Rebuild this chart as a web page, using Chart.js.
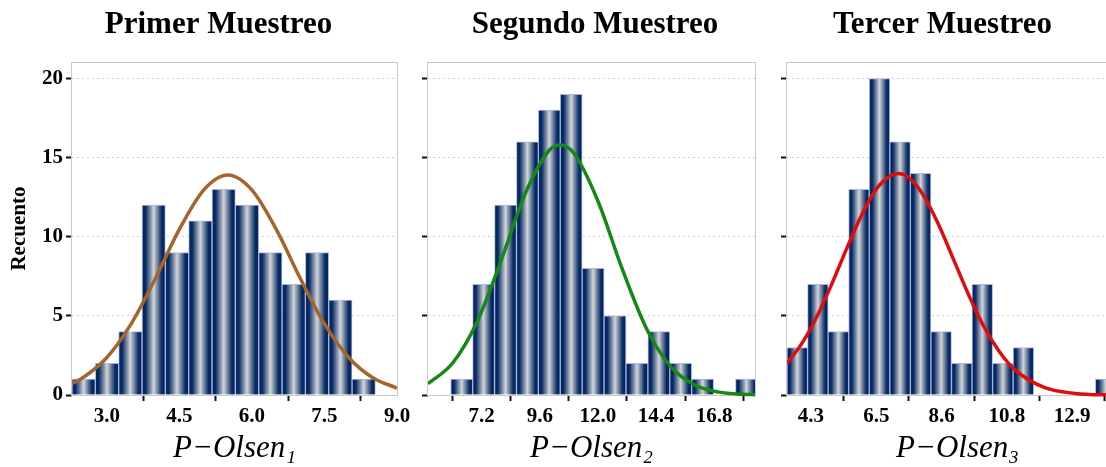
<!DOCTYPE html>
<html>
<head>
<meta charset="utf-8">
<script src="https://cdn.jsdelivr.net/npm/chart.js@4.4.1/dist/chart.umd.min.js"></script>
<style>
html, body { margin: 0; padding: 0; background: #ffffff; overflow: hidden; }
#wrap { position: relative; width: 1106px; height: 467px; overflow: hidden; background: #fff; }
canvas { position: absolute; top: 0; }
</style>
</head>
<body>
<div id="wrap">
  <canvas id="c1" width="437" height="467" style="left:0px"></canvas>
  <canvas id="c2" width="382" height="467" style="left:404px"></canvas>
  <canvas id="c3" width="371" height="467" style="left:757px"></canvas>
</div>
<script>
// ---------- text ----------
const panelTitles = ['Primer Muestreo', 'Segundo Muestreo', 'Tercer Muestreo'];
const xAxisTitles = ['P\u2212Olsen\u2081', 'P\u2212Olsen\u2082', 'P\u2212Olsen\u2083'];
const yAxisTitle = 'Recuento';
const yTicks = [0, 5, 10, 15, 20];

// ---------- Primer Muestreo ----------
const binCenters1 = [2.518, 3.001, 3.484, 3.967, 4.450, 4.932, 5.415, 5.898, 6.381, 6.864, 7.346, 7.829, 8.312];
const counts1     = [1, 2, 4, 12, 9, 11, 13, 12, 9, 7, 9, 6, 1];
const curveX1 = [2.28, 2.5, 3.0, 3.5, 4.0, 4.5, 5.0, 5.5, 6.0, 6.5, 7.0, 7.5, 8.0, 8.5, 9.0];
const curveY1 = [0.74, 1.09, 2.37, 4.49, 7.36, 10.48, 12.95, 13.9, 12.95, 10.48, 7.36, 4.49, 2.37, 1.09, 0.44];
const xTicks1 = [3.0, 4.5, 6.0, 7.5, 9.0];
const xTickLabels1 = ['3.0', '4.5', '6.0', '7.5', '9.0'];

// ---------- Segundo Muestreo ----------
const binCenters2 = [6.372, 7.277, 8.182, 9.087, 9.992, 10.897, 11.802, 12.707, 13.612, 14.517, 15.422, 16.327, 17.232, 18.137];
const counts2     = [1, 7, 12, 16, 18, 19, 8, 5, 2, 4, 2, 1, 0, 1];
const curveX2 = [4.98, 6, 7, 8, 9, 10, 10.44, 11, 12, 13, 14, 15, 16, 17, 18, 18.49];
const curveY2 = [0.71, 2.02, 4.60, 8.49, 12.73, 15.48, 15.8, 15.29, 12.26, 7.98, 4.22, 1.81, 0.63, 0.18, 0.04, 0.02];
const xTicks2 = [7.2, 9.6, 12.0, 14.4, 16.8];
const xTickLabels2 = ['7.2', '9.6', '12.0', '14.4', '16.8'];

// ---------- Tercer Muestreo ----------
const binCenters3 = [3.849, 4.526, 5.203, 5.880, 6.557, 7.234, 7.911, 8.588, 9.265, 9.942, 10.619, 11.296, 11.973, 12.650, 13.327, 14.004];
const counts3     = [3, 7, 4, 13, 20, 16, 14, 4, 2, 7, 2, 3, 0, 0, 0, 1];
const curveX3 = [3.51, 4.0, 4.5, 5.0, 5.5, 6.0, 6.5, 7.16, 7.5, 8.0, 8.5, 9.0, 9.5, 10.0, 10.5, 11.0, 12.0, 13.0, 14.0, 14.74];
const curveY3 = [2.00, 3.26, 4.98, 7.08, 9.36, 11.50, 13.14, 14.0, 13.77, 12.63, 10.77, 8.54, 6.29, 4.31, 2.75, 1.62, 0.46, 0.10, 0.01, 0.0];
const xTicks3 = [4.3, 6.45, 8.6, 10.75, 12.9];
const xTickLabels3 = ['4.3', '6.5', '8.6', '10.8', '12.9'];

// ---------- styling ----------
const FONT = '"Liberation Serif", "Times New Roman", Times, serif';

function stripeFill(c, centers) {
  const chart = c.chart;
  const xs = chart.scales && chart.scales.x;
  if (!xs || c.dataIndex === undefined || c.type !== 'data') return '#0a2a62';
  const half = Math.abs(xs.getPixelForValue(centers[1]) - xs.getPixelForValue(centers[0])) / 2;
  const px = xs.getPixelForValue(centers[c.dataIndex]);
  if (!isFinite(half) || !isFinite(px) || half <= 0) return '#0a2a62';
  const g = chart.ctx.createLinearGradient(px - half, 0, px + half, 0);
  g.addColorStop(0.00, '#002460');
  g.addColorStop(0.15, '#062b65');
  g.addColorStop(0.34, '#7586a2');
  g.addColorStop(0.50, '#d3d5d8');
  g.addColorStop(0.66, '#7586a2');
  g.addColorStop(0.85, '#062b65');
  g.addColorStop(1.00, '#002460');
  return g;
}

const framePlugin = {
  id: 'frame',
  beforeDatasetsDraw(chart) {
    const { ctx, chartArea: a } = chart;
    ctx.save();
    ctx.strokeStyle = '#c9c9c9';
    ctx.lineWidth = 1;
    ctx.strokeRect(Math.round(a.left) - 0.5, Math.round(a.top) + 0.5,
                   Math.round(a.right - a.left) + 1, Math.round(a.bottom - a.top));
    ctx.restore();
  }
};

function makeChart(id, p) {
  const scales = {
    x: {
      type: 'linear', min: p.xMin, max: p.xMax, offset: false,
      afterBuildTicks: s => { s.ticks = p.xTicks.map(v => ({ value: v })); },
      afterFit: s => { s.height = 72; },
      ticks: {
        autoSkip: false, maxRotation: 0, padding: 3, color: '#000',
        font: { family: FONT, size: 21, weight: 'bold' },
        callback: (v, i) => p.xTickLabels[i]
      },
      grid: { drawOnChartArea: false, tickLength: 6, tickWidth: 2, tickColor: '#111', color: '#111' },
      border: { display: false },
      title: {
        display: true, text: p.xTitle, color: '#000',
        font: { family: FONT, size: 31, style: 'italic', weight: 'normal' },
        padding: { top: 0, bottom: 0 }
      }
    },
    y: {
      type: 'linear', min: 0, max: 21.03,
      afterBuildTicks: s => { s.ticks = yTicks.map(v => ({ value: v })); },
      afterFit: s => { s.width = p.yWidth; },
      ticks: {
        display: p.showYLabels, padding: 3, color: '#000',
        font: { family: FONT, size: 21, weight: 'bold' }
      },
      grid: {
        color: c => (c.tick && c.tick.value === 0) ? 'rgba(0,0,0,0)' : '#d2d2d2',
        lineWidth: 1, tickLength: 6, tickWidth: 2, tickColor: '#111', tickBorderDash: []
      },
      border: { display: false, dash: [2, 3] },
      title: {
        display: p.showYLabels, text: yAxisTitle, color: '#000',
        font: { family: FONT, size: 21, weight: 'bold' },
        padding: { top: 7, bottom: 0 }
      }
    }
  };
  if (p.padRight > 0) {
    scales.pad = {
      type: 'linear', position: 'right', display: true,
      afterFit: s => { s.width = p.padRight; },
      ticks: { display: false },
      grid: { display: false, drawTicks: false },
      border: { display: false },
      title: { display: false }
    };
  }
  return new Chart(document.getElementById(id), {
    type: 'bar',
    data: {
      datasets: [
        {
          type: 'line',
          data: p.curveX.map((x, i) => ({ x: x, y: p.curveY[i] })),
          xAxisID: 'x', yAxisID: 'y',
          borderColor: p.lineColor, borderWidth: 3.5,
          pointRadius: 0, fill: false, cubicInterpolationMode: 'monotone',
          clip: { left: 0, right: 0, top: 0, bottom: 5 },
          order: 0
        },
        {
          type: 'bar',
          data: p.centers.map((x, i) => ({ x: x, y: p.counts[i] })),
          xAxisID: 'x', yAxisID: 'y',
          backgroundColor: c => stripeFill(c, p.centers),
          borderColor: 'rgba(150,158,215,0.75)', borderWidth: 1,
          barPercentage: 1.0, categoryPercentage: 1.0, grouped: false,
          order: 1
        }
      ]
    },
    options: {
      responsive: false, animation: false, devicePixelRatio: 1,
      layout: { padding: 0 },
      plugins: {
        legend: { display: false },
        tooltip: { enabled: false },
        title: {
          display: true, text: p.title, color: '#000',
          font: { family: FONT, size: 31, weight: 'bold' },
          padding: { top: 6, bottom: 19 }
        }
      },
      scales: scales
    },
    plugins: [framePlugin]
  });
}

makeChart('c1', {
  title: panelTitles[0], xTitle: xAxisTitles[0], centers: binCenters1, counts: counts1,
  curveX: curveX1, curveY: curveY1, lineColor: '#a5652a',
  xMin: 2.277, xMax: 9.0, xTicks: xTicks1, xTickLabels: xTickLabels1,
  yWidth: 72, padRight: 40, showYLabels: true
});
makeChart('c2', {
  title: panelTitles[1], xTitle: xAxisTitles[1], centers: binCenters2, counts: counts2,
  curveX: curveX2, curveY: curveY2, lineColor: '#148a14',
  xMin: 4.98, xMax: 18.49, xTicks: xTicks2, xTickLabels: xTickLabels2,
  yWidth: 24, padRight: 31, showYLabels: false
});
makeChart('c3', {
  title: panelTitles[2], xTitle: xAxisTitles[2], centers: binCenters3, counts: counts3,
  curveX: curveX3, curveY: curveY3, lineColor: '#e00d0d',
  xMin: 3.51, xMax: 14.74, xTicks: xTicks3, xTickLabels: xTickLabels3,
  yWidth: 30, padRight: 0, showYLabels: false
});
</script>
</body>
</html>
